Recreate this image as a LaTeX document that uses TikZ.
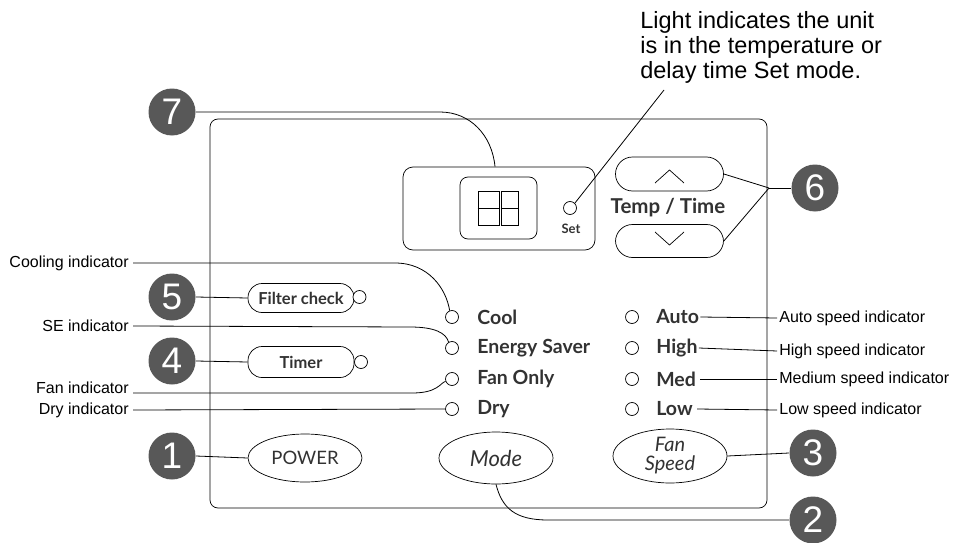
\documentclass[tikz,border=0pt]{standalone}
\usepackage{fontspec}
\newfontfamily\labf{Liberation Sans}
\newfontfamily\panf{Lato}
\usetikzlibrary{shapes.geometric}
\definecolor{badge}{RGB}{88,88,88}
\definecolor{pantext}{RGB}{50,50,50}
\tikzset{
  badgec/.style={circle,fill=badge,minimum size=47pt,inner sep=0pt,text=white,font=\labf\fontsize{37}{37}\selectfont},
  led/.style={circle,draw,minimum size=13pt,inner sep=0pt},
  lbl/.style={font=\labf\fontsize{16}{18}\selectfont,inner sep=0pt},
  ptxt/.style={font=\panf\fontsize{19.5}{21}\selectfont\bfseries,text=pantext,inner sep=0pt},
  stad/.style={draw,rectangle,rounded corners=14pt,inner sep=0pt,text=pantext,font=\panf\fontsize{16.5}{18}\selectfont\bfseries},
  ebtn/.style={draw,ellipse,inner sep=0pt,text=pantext},
  ln/.style={line width=0.8pt},
}
\begin{document}
\begin{tikzpicture}[x=1pt,y=-1pt,line width=0.7pt]
\useasboundingbox (0,0) rectangle (953,543);
% panel
\draw[rounded corners=8pt] (210,119) rectangle (767,508);
% display
\node[draw,rounded corners=10pt,minimum width=192pt,minimum height=83pt,inner sep=0pt] (disp) at (499,208.5) {};
\node[draw,rounded corners=8pt,minimum width=77pt,minimum height=62pt,inner sep=0pt] (inner) at (498.5,208) {};
\node[draw,minimum width=21pt,minimum height=34pt,inner sep=0pt] (dgA) at (488.5,208) {};
\node[draw,minimum width=17pt,minimum height=34pt,inner sep=0pt] (dgB) at (509.5,208) {};
\draw (dgA.west) -- (dgA.east);
\draw (dgB.west) -- (dgB.east);
\node[led] (setled) at (570,208) {};
\node[ptxt,font=\panf\fontsize{13}{15}\selectfont\bfseries] (settxt) at (571,229) {Set};
% annotation
\node[lbl,font=\labf\fontsize{23.5}{25}\selectfont,anchor=north west,align=left] (note) at (640,11) {Light indicates the unit\\is in the temperature or\\delay time Set mode.};
\coordinate (noteptr) at (664,90);
\draw[ln] (setled.north east) -- (noteptr);
% temp/time buttons
\node[stad,rounded corners=17pt,minimum width=108pt,minimum height=34pt] (up) at (669.5,174) {};
\node[stad,rounded corners=17pt,minimum width=108pt,minimum height=33pt] (dn) at (669.5,241) {};
\draw (655,183) -- (669.5,170) -- (684,183);
\draw (655,232) -- (669.5,245) -- (684,232);
\node[ptxt,font=\panf\fontsize{20.5}{22}\selectfont\bfseries] (tt) at (668,208) {Temp / Time};
\coordinate (j6) at (769,188);
\node[badgec] (b6) at (815,188) {6};
\draw[ln] (up.east) -- (j6);
\draw[ln] (dn.east) -- (j6);
\draw[ln] (j6) -- (b6.west);
% badge 7
\node[badgec] (b7) at (172,112) {7};
\draw[ln] (b7.east) -- (440,112) .. controls (470,112) and (492,135) .. ([xshift=-4pt]disp.north);
% filter / timer
\node[badgec] (b5) at (172,297) {5};
\node[stad,minimum width=106pt,minimum height=29pt] (fc) at (301,298) {Filter check};
\node[led,fill=white] (fcled) at (359.5,297) {};
\draw[ln] (b5.east) -- (fc.west);
\node[badgec] (b4) at (172,361) {4};
\node[stad,minimum width=106pt,minimum height=31pt] (tm) at (301,362) {Timer};
\node[led,fill=white] (tmled) at (361,362) {};
\draw[ln] (b4.east) -- (tm.west);
% mode leds
\node[led] (cool) at (452,317) {};
\node[led] (es) at (452,348) {};
\node[led] (fo) at (452,379) {};
\node[led] (dry) at (452,409) {};
\node[ptxt,anchor=west] (tcool) at (477,317) {Cool};
\node[ptxt,anchor=west] (tes) at (477,348) {Energy Saver};
\node[ptxt,anchor=west] (tfo) at (477,379) {Fan Only};
\node[ptxt,anchor=west] (tdry) at (477,409) {Dry};
% speed leds
\node[led] (au) at (632,317) {};
\node[led] (hi) at (632,348) {};
\node[led] (me) at (632,379) {};
\node[led] (lo) at (632,409) {};
\node[ptxt,anchor=west] (tau) at (656,317) {Auto};
\node[ptxt,anchor=west] (thi) at (656,348) {High};
\node[ptxt,anchor=west] (tme) at (656,379) {Med};
\node[ptxt,anchor=west] (tlo) at (656,409) {Low};
% right labels
\node[lbl,anchor=west] (rau) at (779,318) {Auto speed indicator};
\node[lbl,anchor=west] (rhi) at (779,351) {High speed indicator};
\node[lbl,anchor=west] (rme) at (779,379) {Medium speed indicator};
\node[lbl,anchor=west] (rlo) at (779,410) {Low speed indicator};
\draw[ln] ([xshift=1pt]tau.east) -- ([xshift=-2pt]rau.west);
\draw[ln] ([xshift=1pt]thi.east) -- ([xshift=-2pt]rhi.west);
\draw[ln] ([xshift=4pt]tme.east) -- ([xshift=-2pt]rme.west);
\draw[ln] ([xshift=4pt]tlo.east) -- ([xshift=-2pt]rlo.west);
% left labels
\node[lbl,anchor=east] (lcool) at (129,263) {Cooling indicator};
\node[lbl,anchor=east] (lse) at (129,326) {SE indicator};
\node[lbl,anchor=east] (lfan) at (129,388) {Fan indicator};
\node[lbl,anchor=east] (ldry) at (129,410) {Dry indicator};
\draw[ln] ([xshift=4pt]lcool.east) -- (395,263) .. controls (428,263) and (446,288) .. (cool.110);
\draw[ln] ([xshift=4pt]lse.east) -- (410,327) .. controls (435,327) and (446,333) .. (es.120);
\draw[ln] ([xshift=4pt,yshift=-5pt]lfan.east) -- (412,393) .. controls (438,393) and (440,383) .. (fo.200);
\draw[ln] ([xshift=4pt]ldry.east) -- (dry.west);
% bottom buttons
\node[badgec] (b1) at (172,456) {1};
\node[ebtn,minimum width=114pt,minimum height=48pt,font=\panf\fontsize{18.5}{20}\selectfont] (pw) at (305,458) {POWER};
\draw[ln] (b1.east) -- (pw.west);
\node[ebtn,minimum width=114pt,minimum height=52pt,font=\panf\fontsize{22}{23}\selectfont\itshape] (md) at (496,458) {Mode};
\node[ebtn,minimum width=114pt,minimum height=54pt,align=center,font=\panf\fontsize{20}{19}\selectfont\itshape] (fs) at (670,456) {Fan\\Speed};
\node[badgec] (b3) at (813,453) {3};
\draw[ln] (fs.east) -- (b3.west);
\node[badgec] (b2) at (813,520) {2};
\draw[ln] (md.south) .. controls (502,508) and (515,520) .. (548,520) -- (b2.west);
\end{tikzpicture}
\end{document}
